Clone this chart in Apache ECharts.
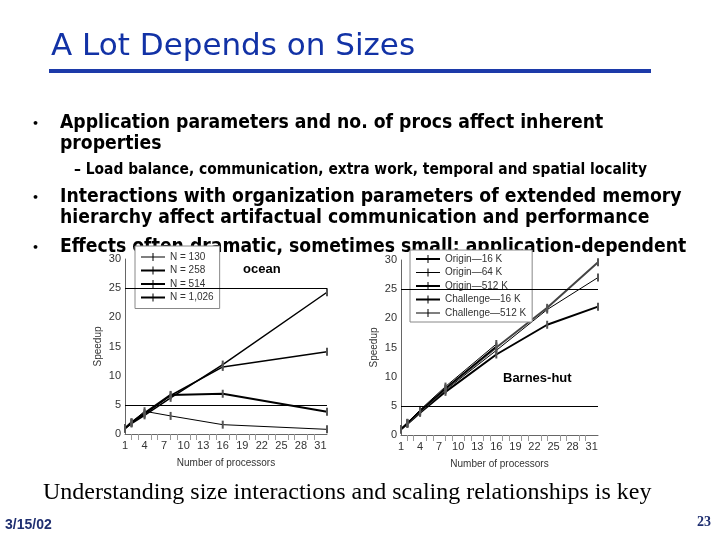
<!DOCTYPE html>
<html><head><meta charset="utf-8">
<script src="https://cdn.jsdelivr.net/npm/echarts@6/dist/echarts.min.js"></script>
<style>html,body{margin:0;padding:0;background:#fff}#c{width:720px;height:540px}</style>
</head><body><div id="c"></div>
<script>
// ---- data ----
var procsL = [1, 2, 4, 8, 16, 32];
var n130  = [1, 2.0, 3.9, 3.1, 1.6, 0.8];
var n258  = [1, 2.0, 3.6, 6.7, 6.9, 3.8];
var n514  = [1, 1.9, 3.4, 6.6, 11.5, 14.1];
var n1026 = [0.9, 1.8, 3.2, 6.2, 11.9, 24.3];
var namesL = ['N = 130', 'N = 258', 'N = 514', 'N = 1,026'];

var procsR = [1, 2, 4, 8, 16, 24, 32];
var procsRC = [1, 2, 4, 8, 16];
var o16  = [1, 1.9, 3.8, 7.4, 13.8, 18.9, 22.0];
var o64  = [1, 2.0, 3.9, 7.7, 14.5, 21.5, 27.0];
var o512 = [1, 2.0, 4.0, 7.9, 15.0, 21.8, 29.6];
var c16  = [1, 2.0, 4.1, 8.0, 15.2];
var c512 = [1, 2.1, 4.3, 8.3, 15.6];
var namesR = ['Origin\u201416 K', 'Origin\u201464 K', 'Origin\u2014512 K', 'Challenge\u201416 K', 'Challenge\u2014512 K'];

var refLines = [5, 25];
var bullets = [
  {t: 'Application parameters and no. of procs affect inherent', b: true},
  {t: 'properties'},
  {t: '\u2013 Load balance, communication, extra work, temporal and spatial locality', sub: true},
  {t: 'Interactions with organization parameters of extended memory', b: true},
  {t: 'hierarchy affect artifactual communication and performance'},
  {t: 'Effects often dramatic, sometimes small: application-dependent', b: true}
];

function pairs(xs, ys) { return xs.map(function (x, i) { return [x, ys[i]]; }); }

var chart = echarts.init(document.getElementById('c'));
var axisTxt = {fontFamily: 'Liberation Sans', fontSize: 11, color: '#333'};

function xAx(idx) {
  return {gridIndex: idx, type: 'value', min: 1, max: 32, interval: 3,
    axisLine: {lineStyle: {color: '#666'}}, axisTick: {show: false},
    minorTick: {show: true, splitNumber: 3, length: 6, lineStyle: {color: '#999'}},
    splitLine: {show: false},
    axisLabel: Object.assign({margin: 6}, axisTxt),
    name: 'Number of processors', nameLocation: 'middle', nameGap: 24,
    nameTextStyle: {fontFamily: 'Liberation Sans', fontSize: 10, color: '#333'}};
}
function yAx(idx) {
  return {gridIndex: idx, type: 'value', min: 0, max: 30, interval: 5,
    axisLine: {show: true, lineStyle: {color: '#666'}}, axisTick: {show: false},
    splitLine: {show: false},
    axisLabel: Object.assign({margin: 4}, axisTxt),
    name: 'Speedup', nameLocation: 'middle', nameGap: 22,
    nameTextStyle: {fontFamily: 'Liberation Sans', fontSize: 10, color: '#333'}};
}
function ser(name, xi, xs, ys, w, col) {
  return {name: name, type: 'line', xAxisIndex: xi, yAxisIndex: xi, data: pairs(xs, ys),
    symbol: 'rect', symbolSize: [2, 8], showSymbol: true,
    lineStyle: {width: w, color: col || '#000'}, itemStyle: {color: '#555', borderWidth: 0},
    animation: false, z: 3};
}
function mline() {
  return {silent: true, symbol: 'none', label: {show: false},
    lineStyle: {color: '#000', width: 1, type: 'solid'},
    data: refLines.map(function (v) { return {yAxis: v}; })};
}

var seriesL = [
  ser(namesL[0], 0, procsL, n130, 1),
  ser(namesL[1], 0, procsL, n258, 2),
  ser(namesL[2], 0, procsL, n514, 1.5),
  ser(namesL[3], 0, procsL, n1026, 1.5)
];
seriesL[0].markLine = mline();
var seriesR = [
  ser(namesR[0], 1, procsR, o16, 2),
  ser(namesR[1], 1, procsR, o64, 1),
  ser(namesR[2], 1, procsR, o512, 2, '#444'),
  ser(namesR[3], 1, procsRC, c16, 1.5),
  ser(namesR[4], 1, procsRC, c512, 1)
];
seriesR[0].markLine = mline();

var graphics = [];
graphics.push({type: 'text', z: 1, style: {text: 'A Lot Depends on Sizes', x: 51, y: 47,
  font: '31px "DejaVu Sans"', fill: '#1232a6', textVerticalAlign: 'middle'}});
graphics.push({type: 'rect', z: 1, shape: {x: 49, y: 69, width: 602, height: 4}, style: {fill: '#1c3aa9'}});
var ys = [123, 144, 170, 197, 218, 247];
bullets.forEach(function (b, i) {
  if (b.sub) {
    graphics.push({type: 'text', z: 1, style: {text: b.t, x: 74, y: ys[i],
      font: 'bold 15.4px "DejaVu Sans Condensed"', fill: '#000', textVerticalAlign: 'middle'}});
  } else {
    if (b.b) graphics.push({type: 'text', z: 1, style: {text: '\u2022', x: 32, y: ys[i] + 1,
      font: 'bold 11px "DejaVu Sans"', fill: '#000', textVerticalAlign: 'middle'}});
    graphics.push({type: 'text', z: 1, style: {text: b.t, x: 60, y: ys[i],
      font: 'bold 19.2px "DejaVu Sans Condensed"', fill: '#000', textVerticalAlign: 'middle'}});
  }
});
graphics.push({type: 'text', z: 5, style: {text: 'ocean', x: 243, y: 269,
  font: 'bold 13px "Liberation Sans"', fill: '#000', textVerticalAlign: 'middle'}});
graphics.push({type: 'text', z: 5, style: {text: 'Barnes-hut', x: 503, y: 378,
  font: 'bold 13px "Liberation Sans"', fill: '#000', textVerticalAlign: 'middle'}});
graphics.push({type: 'text', z: 1, style: {text: 'Understanding size interactions and scaling relationships is key',
  x: 43, y: 493, font: '24px "Liberation Serif"', fill: '#000', textVerticalAlign: 'middle'}});
graphics.push({type: 'text', z: 1, style: {text: '3/15/02', x: 5, y: 525,
  font: 'bold 14px "Liberation Sans"', fill: '#1f2f70', textVerticalAlign: 'middle'}});
graphics.push({type: 'text', z: 1, style: {text: '23', x: 697, y: 522,
  font: 'bold 14px "Liberation Serif"', fill: '#1f2f70', textVerticalAlign: 'middle'}});

// legend icon: a horizontal line crossed by a small vertical tick
var iconThin = 'path://M0,3.6H24V4.4H0Z M11.5,0H12.5V8H11.5Z';
var iconThick = 'path://M0,3.1H24V4.9H0Z M11.5,0H12.5V8H11.5Z';
function legend(left, top, names, thick, pad) {
  return {left: left, top: top, orient: 'vertical',
    data: names.map(function (n, i) { return {name: n, icon: thick[i] ? iconThick : iconThin,
      itemStyle: {color: '#000', borderWidth: 0}}; }),
    backgroundColor: '#fff', borderColor: '#888', borderWidth: 1,
    padding: [pad, 6, pad, 6], itemGap: 3.5, itemWidth: 24, itemHeight: 8,
    textStyle: {fontFamily: 'Liberation Sans', fontSize: 10, color: '#333'},
    selectedMode: false, z: 4};
}

chart.setOption({
  animation: false,
  backgroundColor: '#fff',
  grid: [
    {left: 125, top: 259, width: 202, height: 175},
    {left: 401, top: 260, width: 197, height: 175}
  ],
  xAxis: [xAx(0), xAx(1)],
  yAxis: [yAx(0), yAx(1)],
  legend: [legend(135, 246, namesL, [0, 1, 1, 1], 6), legend(410, 250, namesR, [1, 0, 1, 1, 0], 4)],
  series: seriesL.concat(seriesR),
  graphic: graphics
});
</script></body></html>
